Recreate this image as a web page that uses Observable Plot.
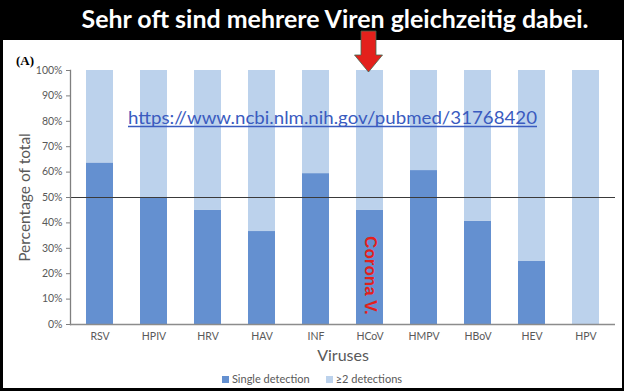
<!DOCTYPE html>
<html>
<head>
<meta charset="utf-8">
<script src="https://cdn.jsdelivr.net/npm/d3@7"></script>
<script src="https://cdn.jsdelivr.net/npm/@observablehq/plot@0.6"></script>
<style>
  html, body { margin: 0; padding: 0; background: #000; }
  #wrap { position: relative; width: 624px; height: 391px; overflow: hidden; background: #000; }
  #panel { position: absolute; left: 3px; top: 40px; width: 619px; height: 348px; background: #fff; }
  #chart { position: absolute; left: 3px; top: 40px; }
  #legend { position: absolute; left: 0; top: 371px; width: 624px; display: flex; justify-content: center; gap: 16px;
            font-family: Lato, sans-serif; font-size: 11px; color: #595959; line-height: 16px; }
  #legend .item { display: flex; align-items: center; gap: 3px; }
  #legend .sw { width: 7px; height: 7px; display: inline-block; }
  #overlay { position: absolute; left: 0; top: 0; pointer-events: none; }
</style>
</head>
<body>
<div id="wrap">
  <div id="panel"></div>
  <div id="chart"></div>
  <div id="legend"></div>
  <svg id="overlay" width="624" height="391"></svg>
</div>
<script>
// ---- data ----
const viruses = ["RSV", "HPIV", "HRV", "HAV", "INF", "HCoV", "HMPV", "HBoV", "HEV", "HPV"];
const singleDetection = [63.6, 50.0, 44.9, 36.6, 59.4, 44.9, 60.6, 40.7, 24.8, 0];
const multipleDetections = [36.4, 50.0, 55.1, 63.4, 40.6, 55.1, 39.4, 59.3, 75.2, 100];
const seriesNames = ["Single detection", "≥2 detections"];
const seriesColors = ["#6490d0", "#bcd2ec"];
const yTicks = [0, 10, 20, 30, 40, 50, 60, 70, 80, 90, 100];
const referenceLine = [50];
const titleText = "Sehr oft sind mehrere Viren gleichzeitig dabei.";
const urlText = "https://www.ncbi.nlm.nih.gov/pubmed/31768420";
const panelLabel = "(A)";
const yLabel = "Percentage of total";
const xLabel = "Viruses";
const annotation = [{virus: "HCoV", y: 19.3, label: "Corona V."}];

const rows = [];
viruses.forEach((v, i) => {
  rows.push({virus: v, series: seriesNames[0], value: singleDetection[i]});
  rows.push({virus: v, series: seriesNames[1], value: multipleDetections[i]});
});

const chart = Plot.plot({
  width: 618,
  height: 330,
  marginLeft: 67,
  marginRight: 6,
  marginTop: 30,
  marginBottom: 46,
  style: {fontFamily: "Lato, sans-serif", fontSize: "10.5px", color: "#595959", background: "transparent", overflow: "visible"},
  x: {domain: viruses, paddingInner: 0.5, paddingOuter: 0.25, label: null},
  y: {domain: [0, 100], label: null},
  color: {domain: seriesNames, range: seriesColors},
  marks: [
    Plot.barY(rows, {x: "virus", y: "value", fill: "series"}),
    Plot.ruleY(referenceLine, {stroke: "#3a3a3a", strokeWidth: 1}),
    Plot.axisY({ticks: yTicks, tickFormat: d => d + "%", tickSize: 4, tickPadding: 4, label: null, fill: "#595959", stroke: "#7f7f7f"}),
    Plot.axisX({tickSize: 0, tickPadding: 8, label: null, fill: "#595959", fontSize: 10.5}),
    Plot.frame({anchor: "left", stroke: "#7f7f7f", strokeWidth: 1.3}),
    Plot.ruleY([0], {stroke: "#8c8c8c", strokeWidth: 1.6}),
    Plot.text([yLabel], {frameAnchor: "left", textAnchor: "middle", dx: -45, rotate: -90, fontSize: 15.5, fill: "#595959"}),
    Plot.text([xLabel], {frameAnchor: "bottom", dy: 36, fontSize: 16, fill: "#595959"}),
    Plot.text(annotation, {x: "virus", y: "y", text: "label", rotate: 90, fill: "#e3211c", fontSize: 17, fontWeight: "bold", fontFamily: "Liberation Sans, Arial, sans-serif"})
  ]
});
document.getElementById("chart").appendChild(chart);

// legend
const legend = document.getElementById("legend");
seriesNames.forEach((s, i) => {
  const item = document.createElement("span");
  item.className = "item";
  const sw = document.createElement("span");
  sw.className = "sw";
  sw.style.background = seriesColors[i];
  item.appendChild(sw);
  item.appendChild(document.createTextNode(s));
  legend.appendChild(item);
});

// overlay annotations
const ov = d3.select("#overlay");
ov.append("text").attr("x", 335).attr("y", 28).attr("text-anchor", "middle")
  .attr("font-family", "Lato, sans-serif").attr("font-weight", "bold").attr("font-size", 24)
  .attr("fill", "#fff").attr("textLength", 507).attr("lengthAdjust", "spacingAndGlyphs").text(titleText);
ov.append("text").attr("x", 16).attr("y", 65).attr("font-family", "Liberation Serif, Times New Roman, serif")
  .attr("font-weight", "bold").attr("font-size", 13).attr("fill", "#000").text(panelLabel);
ov.append("text").attr("x", 128).attr("y", 124)
  .attr("font-family", "Lato, sans-serif").attr("font-size", 17).attr("fill", "#3a5bbf")
  .attr("textLength", 409).attr("lengthAdjust", "spacingAndGlyphs").text(urlText);
ov.append("line").attr("x1", 128).attr("x2", 537).attr("y1", 126.5).attr("y2", 126.5)
  .attr("stroke", "#3a5bbf").attr("stroke-width", 1.3);
ov.append("path")
  .attr("d", "M361,31 L376,31 L376,55 L382.5,55 L368.5,72 L354.5,55 L361,55 Z")
  .attr("fill", "#e3211c").attr("stroke", "#3d6b50").attr("stroke-width", 0.8);
</script>
</body>
</html>
